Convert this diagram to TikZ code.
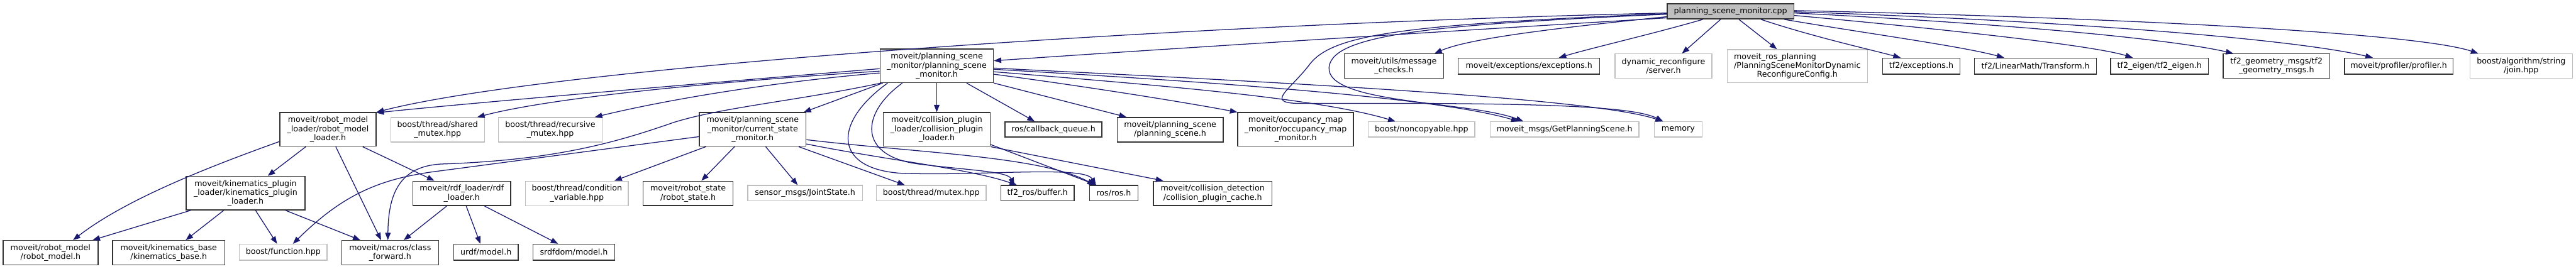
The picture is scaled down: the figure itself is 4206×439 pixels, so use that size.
\documentclass[tikz,border=0pt]{standalone}
\usepackage{fontspec}
\setmainfont{DejaVu Sans}
\usetikzlibrary{arrows.meta}
\definecolor{edgec}{HTML}{191970}
\definecolor{extc}{HTML}{BFBFBF}
\definecolor{cppfill}{HTML}{BFBFBF}
\definecolor{docc}{HTML}{333333}
\tikzset{
  box/.style={rectangle, inner sep=0pt, align=center, text=black,
    font=\fontsize{13}{14.7}\selectfont, line width=1.5pt},
  doc/.style={box, draw=docc},
  ext/.style={box, draw=extc, line width=1.4pt},
  src/.style={box, draw=docc, fill=cppfill},
  edge/.style={draw=edgec, line width=1.3pt, -{Triangle[length=12pt,width=9pt]}}
}
\begin{document}
\begin{tikzpicture}[x=1pt,y=-1pt]
\useasboundingbox (0,0) rectangle (4206,439);
% ---- nodes
\node[src, minimum width=207pt, minimum height=25pt] (cpp) at (2825.5,18.5) {planning\_scene\_monitor.cpp};
\node[doc, minimum width=185pt, minimum height=55pt] (psm) at (1529.5,107.5) {moveit/planning\_scene\\\_monitor/planning\_scene\\\_monitor.h};
\node[doc, minimum width=157pt, minimum height=55pt] (rml) at (535.5,211.5) {moveit/robot\_model\\\_loader/robot\_model\\\_loader.h};
\node[ext, minimum width=153pt, minimum height=40pt] (shmx) at (714.5,212) {boost/thread/shared\\\_mutex.hpp};
\node[ext, minimum width=169pt, minimum height=40pt] (rmx) at (898.5,212) {boost/thread/recursive\\\_mutex.hpp};
\node[doc, minimum width=174pt, minimum height=55pt] (csm) at (1229,211.5) {moveit/planning\_scene\\\_monitor/current\_state\\\_monitor.h};
\node[doc, minimum width=175pt, minimum height=55pt] (cpl) at (1529.5,211.5) {moveit/collision\_plugin\\\_loader/collision\_plugin\\\_loader.h};
\node[doc, minimum width=158pt, minimum height=25pt] (cbq) at (1720,211.5) {ros/callback\_queue.h};
\node[doc, minimum width=173pt, minimum height=40pt] (ps) at (1910.5,212) {moveit/planning\_scene\\/planning\_scene.h};
\node[doc, minimum width=189pt, minimum height=55pt] (omm) at (2115.5,211.5) {moveit/occupancy\_map\\\_monitor/occupancy\_map\\\_monitor.h};
\node[ext, minimum width=174pt, minimum height=25pt] (nc) at (2321,211.5) {boost/noncopyable.hpp};
\node[ext, minimum width=243pt, minimum height=25pt] (gps) at (2554.5,211.5) {moveit\_msgs/GetPlanningScene.h};
\node[ext, minimum width=78pt, minimum height=25pt] (mem) at (2740,211.5) {memory};
\node[doc, minimum width=162pt, minimum height=40pt] (mc) at (2276,108) {moveit/utils/message\\\_checks.h};
\node[doc, minimum width=231pt, minimum height=26pt] (exc) at (2496.5,108) {moveit/exceptions/exceptions.h};
\node[ext, minimum width=158pt, minimum height=40pt] (drs) at (2716,108) {dynamic\_reconfigure\\/server.h};
\node[ext, minimum width=229pt, minimum height=54pt] (psmdrc) at (2934.5,108) {\rlap{moveit\_ros\_planning}\phantom{/PlanningSceneMonitorDynamic}\\/PlanningSceneMonitorDynamic\\ReconfigureConfig.h};
\node[doc, minimum width=126pt, minimum height=26pt] (tfe) at (3137,108) {tf2/exceptions.h};
\node[doc, minimum width=199pt, minimum height=26pt] (tft) at (3323.5,108) {tf2/LinearMath/Transform.h};
\node[doc, minimum width=160pt, minimum height=26pt] (tfeig) at (3526,108) {tf2\_eigen/tf2\_eigen.h};
\node[doc, minimum width=174pt, minimum height=40pt] (tfg) at (3717,108) {tf2\_geometry\_msgs/tf2\\\_geometry\_msgs.h};
\node[doc, minimum width=177pt, minimum height=26pt] (prof) at (3916.5,108) {moveit/profiler/profiler.h};
\node[ext, minimum width=167pt, minimum height=40pt] (join) at (4116.5,108) {boost/algorithm/string\\/join.hpp};
\node[doc, minimum width=194pt, minimum height=55pt] (kpl) at (401,315.5) {moveit/kinematics\_plugin\\\_loader/kinematics\_plugin\\\_loader.h};
\node[doc, minimum width=160pt, minimum height=40pt] (rdf) at (754,316) {moveit/rdf\_loader/rdf\\\_loader.h};
\node[ext, minimum width=168pt, minimum height=40pt] (cv) at (942,316) {boost/thread/condition\\\_variable.hpp};
\node[doc, minimum width=147pt, minimum height=40pt] (rs) at (1123.5,316) {moveit/robot\_state\\/robot\_state.h};
\node[ext, minimum width=187pt, minimum height=25pt] (js) at (1314.5,315.5) {sensor\_msgs/JointState.h};
\node[ext, minimum width=179pt, minimum height=25pt] (mtx) at (1520.5,315.5) {boost/thread/mutex.hpp};
\node[doc, minimum width=120pt, minimum height=25pt] (buf) at (1694,315.5) {tf2\_ros/buffer.h};
\node[doc, minimum width=79pt, minimum height=25pt] (ros) at (1818.5,315.5) {ros/ros.h};
\node[doc, minimum width=194pt, minimum height=40pt] (cpc) at (1980,316) {moveit/collision\_detection\\/collision\_plugin\_cache.h};
\node[doc, minimum width=155pt, minimum height=40pt] (rm) at (82.5,413) {moveit/robot\_model\\/robot\_model.h};
\node[doc, minimum width=183pt, minimum height=40pt] (kb) at (275.5,413) {moveit/kinematics\_base\\/kinematics\_base.h};
\node[ext, minimum width=143pt, minimum height=26pt] (fn) at (462.5,412) {boost/function.hpp};
\node[doc, minimum width=158pt, minimum height=40pt] (cf) at (637,413) {moveit/macros/class\\\_forward.h};
\node[doc, minimum width=105pt, minimum height=26pt] (urdf) at (793.5,412) {urdf/model.h};
\node[doc, minimum width=134pt, minimum height=26pt] (srdf) at (937,412) {srdfdom/model.h};
% ---- edges from cpp
\draw[edge] ([yshift=-24pt]cpp.north west) .. controls (2300,55) and (1900,80) .. ([yshift=-20pt]psm.north east);
\draw[edge] ([yshift=-16pt]cpp.north west) .. controls (1900,40) and (900,110) .. (rml.north east);
\draw[edge] ([yshift=-22pt]cpp.north west) .. controls (2550,45) and (2400,62) .. ([xshift=148pt]mc.north west);
\draw[edge] ([xshift=59pt]cpp.south west) .. controls (2700,55) and (2600,78) .. ([xshift=165pt]exc.north west);
\draw[edge] ([xshift=88pt]cpp.south west) -- ([xshift=110pt]drs.north west);
\draw[edge] ([xshift=118pt]cpp.south west) -- ([xshift=82pt]psmdrc.north west);
\draw[edge] ([xshift=154pt]cpp.south west) .. controls (2960,60) and (3050,80) .. ([xshift=30pt]tfe.north west);
\draw[edge] ([xshift=192pt]cpp.south west) .. controls (3050,55) and (3200,75) .. ([xshift=49pt]tft.north west);
\draw[edge] ([yshift=-20pt]cpp.north east) .. controls (3200,50) and (3420,75) .. ([xshift=37pt]tfeig.north west);
\draw[edge] ([yshift=-16pt]cpp.north east) .. controls (3300,40) and (3550,65) .. ([xshift=17pt]tfg.north west);
\draw[edge] ([yshift=-14pt]cpp.north east) .. controls (3400,35) and (3750,65) .. ([xshift=47pt]prof.north west);
\draw[edge] ([yshift=-12pt]cpp.north east) .. controls (3500,30) and (3950,55) .. ([xshift=14pt]join.north west);
\draw[edge] ([yshift=-18pt]cpp.north west) .. controls (2350,40) and (2175,55) .. (2170,110) .. controls (2165,170) and (2400,165) .. ([xshift=55pt]gps.north west);
\draw[edge] ([yshift=-17pt]cpp.north west) .. controls (2300,40) and (2180,55) .. (2140,103) .. controls (2105,150) and (2060,170) .. (2130,169) .. controls (2450,168) and (2660,170) .. ([xshift=15pt]mem.north west);
% ---- edges from psm
\draw[edge] ([yshift=-33pt]psm.north west) .. controls (1100,140) and (750,170) .. ([yshift=-1pt]rml.north east);
\draw[edge] ([yshift=-37pt]psm.north west) .. controls (1150,135) and (900,160) .. ([xshift=142pt]shmx.north west);
\draw[edge] ([yshift=-40pt]psm.north west) .. controls (1250,135) and (1080,165) .. ([xshift=158pt]rmx.north west);
\draw[edge] ([xshift=5pt]psm.south west) -- ([xshift=171pt]csm.north west);
\draw[edge] ([xshift=2pt]psm.south west) .. controls (1300,165) and (1180,175) .. (1100,200) .. controls (1000,235) and (900,262) .. (720,268) .. controls (650,272) and (634,320) .. ([xshift=76pt]cf.north west);
\draw[edge] (psm.south) -- (cpl.north);
\draw[edge] ([xshift=142pt]psm.south west) -- ([xshift=49pt]cbq.north west);
\draw[edge] (psm.south east) -- ([xshift=16pt]ps.north west);
\draw[edge] ([yshift=-42pt]psm.north east) .. controls (1800,145) and (1950,170) .. (omm.north west);
\draw[edge] ([yshift=-38pt]psm.north east) .. controls (1900,140) and (2150,160) .. ([xshift=45pt]nc.north west);
\draw[edge] ([yshift=-34pt]psm.north east) .. controls (2000,135) and (2350,160) .. ([xshift=47pt]gps.north west);
\draw[edge] ([yshift=-32pt]psm.north east) .. controls (2100,135) and (2600,160) .. ([xshift=15pt]mem.north west);
\draw[edge] ([xshift=37pt]psm.south west) .. controls (1405,185) and (1400,255) .. (1500,268) .. controls (1580,278) and (1645,280) .. ([xshift=23pt]buf.north west);
\draw[edge] ([xshift=13pt]psm.south west) .. controls (1360,200) and (1360,275) .. (1470,283) .. controls (1600,288) and (1770,270) .. ([xshift=11pt]ros.north west);
% ---- edges from csm
\draw[edge] ([xshift=11pt]csm.south west) -- ([xshift=146pt]cv.north west);
\draw[edge] ([xshift=58pt]csm.south west) -- ([xshift=96pt]rs.north west);
\draw[edge] ([xshift=109pt]csm.south west) -- ([xshift=82pt]js.north west);
\draw[edge] ([yshift=-40pt]csm.north west) -- (720,279) .. controls (620,291) and (560,318) .. ([xshift=88pt]fn.north west);
\draw[edge] ([xshift=163pt]csm.south west) -- ([xshift=47pt]mtx.north west);
\draw[edge] ([yshift=-52pt]csm.north east) .. controls (1450,262) and (1580,275) .. ([xshift=27pt]buf.north west);
\draw[edge] ([yshift=-45pt]csm.north east) .. controls (1500,250) and (1700,255) .. ([xshift=9pt]ros.north west);
% ---- edges from cpl
\draw[edge] ([yshift=-53pt]cpl.north east) -- ([xshift=12pt]ros.north west);
\draw[edge] (cpl.south east) -- ([xshift=17pt]cpc.north west);
% ---- edges from rml
\draw[edge] ([yshift=-48pt]rml.north west) .. controls (320,280) and (200,330) .. ([xshift=115pt]rm.north west);
\draw[edge] ([xshift=43pt]rml.south west) -- ([xshift=134pt]kpl.north west);
\draw[edge] ([xshift=92pt]rml.south west) -- ([xshift=65pt]cf.north west);
\draw[edge] ([xshift=136pt]rml.south west) -- ([xshift=36pt]rdf.north west);
% ---- edges from kpl
\draw[edge] ([xshift=8pt]kpl.south west) -- ([xshift=147pt]rm.north west);
\draw[edge] ([xshift=62pt]kpl.south west) -- ([xshift=120pt]kb.north west);
\draw[edge] ([xshift=114pt]kpl.south west) -- ([xshift=62pt]fn.north west);
\draw[edge] ([xshift=163pt]kpl.south west) -- ([xshift=31pt]cf.north west);
% ---- edges from rdf
\draw[edge] ([xshift=56pt]rdf.south west) -- ([xshift=102pt]cf.north west);
\draw[edge] ([xshift=88pt]rdf.south west) -- ([xshift=44pt]urdf.north west);
\draw[edge] ([xshift=118pt]rdf.south west) -- ([xshift=42pt]srdf.north west);
\end{tikzpicture}
\end{document}
